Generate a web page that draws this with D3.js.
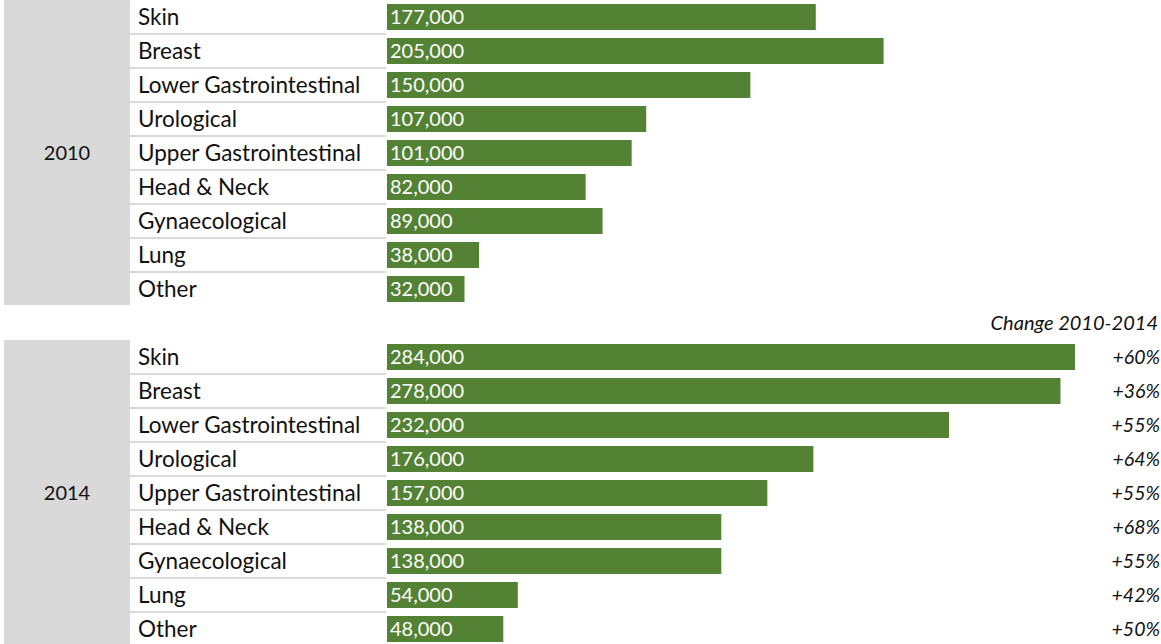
<!DOCTYPE html>
<html>
<head>
<meta charset="utf-8">
<script src="https://cdn.jsdelivr.net/npm/d3@7"></script>
<style>
  body { margin: 0; background: #fff; }
  text { font-family: Lato, "Open Sans", sans-serif; }
</style>
</head>
<body>
<div id="chart"></div>
<script>
var width = 1161;
var height = 644;

var categories = ["Skin", "Breast", "Lower Gastrointestinal", "Urological", "Upper Gastrointestinal",
                  "Head & Neck", "Gynaecological", "Lung", "Other"];
var years = ["2010", "2014"];
var values2010 = [177000, 205000, 150000, 107000, 101000, 82000, 89000, 38000, 32000];
var values2014 = [284000, 278000, 232000, 176000, 157000, 138000, 138000, 54000, 48000];
var change = ["+60%", "+36%", "+55%", "+64%", "+55%", "+68%", "+55%", "+42%", "+50%"];
var changeTitle = "Change 2010-2014";

var rowH = 34;
var groupTop = [0, 340];

var x = d3.scaleLinear()
          .domain([0, 284000])
          .range([387, 1075]);

var y = d3.scaleBand()
          .domain(categories)
          .range([0, rowH * categories.length])
          .paddingInner(8 / 34)
          .paddingOuter(4 / 34);

var fmt = d3.format(",");

var svg = d3.select("#chart")
            .append("svg")
            .attr("width", width)
            .attr("height", height);

var groups = [values2010, values2014];

groups.forEach(function(vals, gi) {
  var g = svg.append("g")
             .attr("transform", "translate(0," + groupTop[gi] + ")");

  // gray year block
  g.append("rect")
   .attr("x", 4)
   .attr("y", 0)
   .attr("width", 126)
   .attr("height", rowH * categories.length - 1)
   .attr("fill", "#d9d9d9");

  g.append("text")
   .attr("x", 67)
   .attr("y", rowH * categories.length / 2)
   .attr("dy", "0.35em")
   .attr("text-anchor", "middle")
   .attr("font-size", 20)
   .attr("fill", "#111")
   .text(years[gi]);

  // row separators
  g.selectAll(".sep")
   .data(categories.slice(1))
   .enter().append("line")
   .attr("x1", 130)
   .attr("x2", 386)
   .attr("y1", function(d, i) { return (i + 1) * rowH; })
   .attr("y2", function(d, i) { return (i + 1) * rowH; })
   .attr("stroke", "#d9d9d9")
   .attr("stroke-width", 2);

  g.selectAll(".cat")
   .data(categories)
   .enter().append("text")
   .attr("x", 138)
   .attr("y", function(d) { return y(d) + y.bandwidth() / 2; })
   .attr("dy", "0.35em")
   .attr("font-size", 22.5)
   .attr("fill", "#111")
   .text(function(d) { return d; });

  g.selectAll(".bar")
   .data(vals)
   .enter().append("rect")
   .attr("x", x(0))
   .attr("y", function(d, i) { return y(categories[i]); })
   .attr("width", function(d) { return x(d) - x(0); })
   .attr("height", y.bandwidth())
   .attr("fill", "#548235");

  g.selectAll(".val")
   .data(vals)
   .enter().append("text")
   .attr("x", x(0) + 3)
   .attr("y", function(d, i) { return y(categories[i]) + y.bandwidth() / 2; })
   .attr("dy", "0.35em")
   .attr("font-size", 20)
   .attr("fill", "#fff")
   .text(function(d) { return fmt(d); });

  if (gi === 1) {
    g.append("text")
     .attr("x", 1158)
     .attr("y", -17)
     .attr("dy", "0.35em")
     .attr("text-anchor", "end")
     .attr("font-size", 20)
     .attr("font-style", "italic")
     .attr("fill", "#111")
     .text(changeTitle);

    g.selectAll(".chg")
     .data(change)
     .enter().append("text")
     .attr("x", 1160)
     .attr("y", function(d, i) { return y(categories[i]) + y.bandwidth() / 2; })
     .attr("dy", "0.35em")
     .attr("text-anchor", "end")
     .attr("font-size", 19.5)
     .attr("font-style", "italic")
     .attr("fill", "#111")
     .text(function(d) { return d; });
  }
});
</script>
</body>
</html>
